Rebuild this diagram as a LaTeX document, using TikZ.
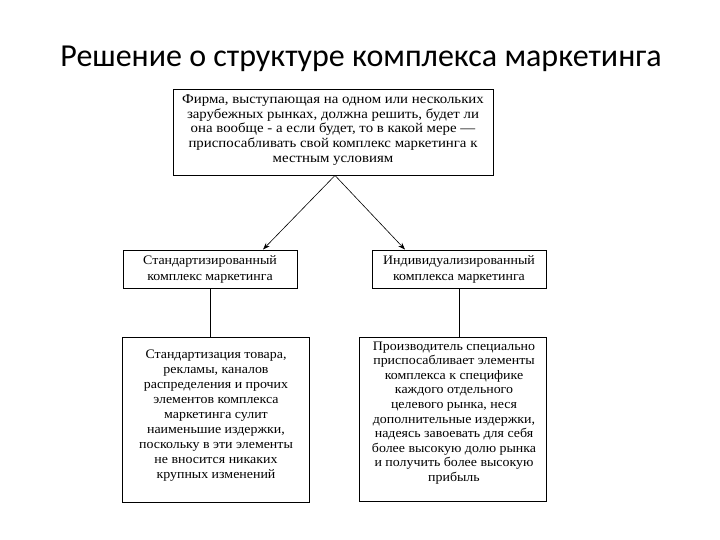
\documentclass[tikz,border=0pt]{standalone}
\usepackage{fontspec}
\setmainfont{Liberation Serif}
\newfontfamily\titlefont{Carlito}
\newfontfamily\topfont[FakeStretch=1.1]{Liberation Serif}
\newfontfamily\boxfont[FakeStretch=1.07]{Liberation Serif}
\usetikzlibrary{arrows.meta}
\begin{document}
\begin{tikzpicture}[x=1pt,y=-1pt,
  frame/.style={draw=black, line width=0.9pt, inner sep=0pt},
  txt/.style={inner sep=0pt, align=center},
  conn/.style={draw=black, line width=0.6pt},
  arr/.style={conn, -{Stealth[length=7pt,width=5pt]}}]
\useasboundingbox (0,0) rectangle (720,540);
\node[font=\titlefont\fontsize{32}{36}\selectfont] (title) at (361,59) {Решение о структуре комплекса маркетинга};
\node[frame, minimum width=320pt, minimum height=86pt] (top) at (333,132) {};
\node[txt, font=\topfont\fontsize{13.5}{14.8}\selectfont] (toptxt) at (333,130)
 {Фирма, выступающая на одном или нескольких\\зарубежных рынках, должна решить, будет ли\\она вообще - а если будет, то в какой мере —\\приспосабливать свой комплекс маркетинга к\\местным условиям};
\node[frame, txt, font=\boxfont\fontsize{13}{16}\selectfont, minimum width=174pt, minimum height=38pt] (lm) at (210,269)
 {Стандартизированный\\комплекс маркетинга};
\node[frame, txt, font=\boxfont\fontsize{13}{16}\selectfont, minimum width=174pt, minimum height=38pt] (rm) at (459,269)
 {Индивидуализированный\\комплекса маркетинга};
\node[frame, minimum width=187pt, minimum height=165pt] (lb) at (216,419.5) {};
\node[txt, font=\boxfont\fontsize{13}{15}\selectfont] (lbtxt) at (216,415.5)
 {Стандартизация товара,\\рекламы, каналов\\распределения и прочих\\элементов комплекса\\маркетинга сулит\\наименьшие издержки,\\поскольку в эти элементы\\не вносится никаких\\крупных изменений};
\node[frame, minimum width=187pt, minimum height=164pt] (rb) at (452.5,419) {};
\node[txt, font=\boxfont\fontsize{13}{14.6}\selectfont] (rbtxt) at (454,413)
 {Производитель специально\\приспосабливает элементы\\комплекса к специфике\\каждого отдельного\\целевого рынка, неся\\дополнительные издержки,\\надеясь завоевать для себя\\более высокую долю рынка\\и получить более высокую\\прибыль};
\draw[arr] ([xshift=2pt]top.south) -- ([xshift=53pt]lm.north);
\draw[arr] ([xshift=2pt]top.south) -- ([xshift=-54pt]rm.north);
\draw[conn] (lm.south) -- (lm.south |- lb.north);
\draw[conn] (rm.south) -- (rm.south |- rb.north);
\end{tikzpicture}
\end{document}
